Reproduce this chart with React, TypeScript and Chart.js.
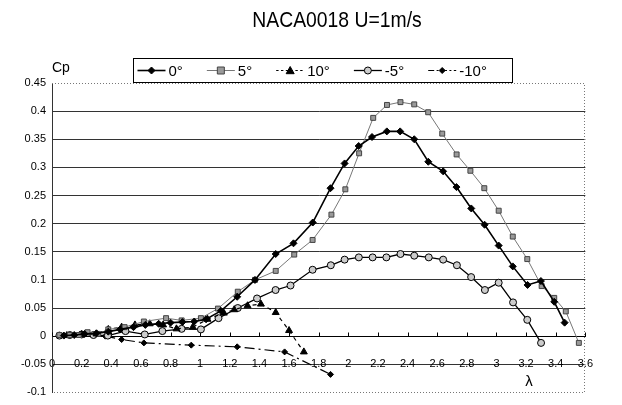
import React, { useEffect, useRef } from 'react';
import { Chart, registerables } from 'chart.js';

Chart.register(...registerables);

const titleText = 'NACA0018 U=1m/s';
const yAxisLabel = 'Cp';
const xAxisLabel = 'λ';
const seriesNames = ['0°', '5°', '10°', '-5°', '-10°'];

const lambda0 = [0.08, 0.15, 0.22, 0.3, 0.38, 0.46, 0.55, 0.63, 0.72, 0.8, 0.88, 0.96, 1.04, 1.14, 1.25, 1.37, 1.51, 1.63, 1.76, 1.88, 1.975, 2.07, 2.16, 2.26, 2.35, 2.445, 2.54, 2.64, 2.73, 2.83, 2.92, 3.015, 3.11, 3.21, 3.3, 3.39, 3.46];
const cp0 = [0.001, 0.002, 0.004, 0.005, 0.008, 0.012, 0.016, 0.02, 0.022, 0.024, 0.025, 0.026, 0.03, 0.045, 0.07, 0.1, 0.146, 0.165, 0.202, 0.263, 0.307, 0.338, 0.354, 0.364, 0.364, 0.35, 0.31, 0.293, 0.265, 0.227, 0.198, 0.161, 0.124, 0.091, 0.098, 0.061, 0.024];

const lambda5 = [0.05, 0.12, 0.18, 0.24, 0.31, 0.38, 0.49, 0.62, 0.77, 0.875, 1.005, 1.12, 1.254, 1.37, 1.51, 1.635, 1.759, 1.886, 1.98, 2.073, 2.168, 2.261, 2.352, 2.445, 2.539, 2.634, 2.731, 2.824, 2.918, 3.015, 3.11, 3.208, 3.305, 3.39, 3.468, 3.556];
const cp5 = [0.002, 0.002, 0.002, 0.007, 0.004, 0.012, 0.016, 0.026, 0.032, 0.028, 0.032, 0.049, 0.079, 0.1, 0.116, 0.145, 0.171, 0.216, 0.261, 0.325, 0.388, 0.411, 0.416, 0.412, 0.398, 0.36, 0.323, 0.294, 0.263, 0.223, 0.177, 0.137, 0.089, 0.068, 0.044, -0.012];

const lambda10 = [0.1, 0.2, 0.3, 0.38, 0.47, 0.56, 0.66, 0.75, 0.84, 0.95, 1.05, 1.16, 1.23, 1.32, 1.41, 1.51, 1.6, 1.7];
const cp10 = [0.001, 0.003, 0.004, 0.012, 0.016, 0.02, 0.022, 0.02, 0.013, 0.016, 0.03, 0.041, 0.047, 0.054, 0.057, 0.042, 0.01, -0.028];

const lambdaM5 = [0.05, 0.12, 0.2, 0.28, 0.377, 0.496, 0.626, 0.745, 0.875, 1.005, 1.124, 1.254, 1.384, 1.509, 1.61, 1.759, 1.882, 1.975, 2.071, 2.164, 2.257, 2.352, 2.445, 2.543, 2.64, 2.733, 2.829, 2.922, 3.015, 3.112, 3.208, 3.301];
const cpM5 = [0.001, 0.002, 0.003, 0.002, 0.001, 0.009, 0.003, 0.009, 0.013, 0.012, 0.032, 0.05, 0.067, 0.082, 0.09, 0.118, 0.126, 0.136, 0.14, 0.14, 0.14, 0.146, 0.143, 0.14, 0.136, 0.126, 0.105, 0.082, 0.095, 0.06, 0.029, -0.012];

const lambdaM10 = [0.36, 0.47, 0.62, 0.94, 1.25, 1.57, 1.88];
const cpM10 = [0.0, -0.006, -0.012, -0.016, -0.019, -0.028, -0.068];

const xMin = 0;
const xMax = 3.6;
const xStep = 0.2;
const yMin = -0.1;
const yMax = 0.45;
const yStep = 0.05;

const FONT = "'Liberation Sans', Arial, sans-serif";

type Style = {
  color: string;
  width: number;
  dash: number[];
  marker: string;
  radius: number;
  fill: string;
  stroke: string;
};

const styles: Style[] = [
  { color: '#000', width: 1.6, dash: [], marker: 'rectRot', radius: 3.5, fill: '#000', stroke: '#000' },
  { color: '#777', width: 1, dash: [], marker: 'rect', radius: 3.5, fill: '#9a9a9a', stroke: '#444' },
  { color: '#000', width: 1.2, dash: [4, 4], marker: 'triangle', radius: 4, fill: '#000', stroke: '#000' },
  { color: '#000', width: 1.3, dash: [], marker: 'circle', radius: 3.5, fill: '#ccc', stroke: '#000' },
  { color: '#000', width: 1.2, dash: [10, 4, 2, 4], marker: 'rectRot', radius: 3, fill: '#000', stroke: '#000' },
];

const fmt = (v: number) => String(Number(Number(v).toFixed(2)));

function drawMarker(ctx: CanvasRenderingContext2D, s: Style, x: number, y: number) {
  const r = s.radius;
  ctx.save();
  ctx.setLineDash([]);
  ctx.fillStyle = s.fill;
  ctx.strokeStyle = s.stroke;
  ctx.lineWidth = 1;
  ctx.beginPath();
  if (s.marker === 'rectRot') {
    ctx.moveTo(x, y - r);
    ctx.lineTo(x + r, y);
    ctx.lineTo(x, y + r);
    ctx.lineTo(x - r, y);
    ctx.closePath();
  } else if (s.marker === 'rect') {
    ctx.rect(x - r, y - r, 2 * r, 2 * r);
  } else if (s.marker === 'triangle') {
    ctx.moveTo(x, y - r);
    ctx.lineTo(x + r, y + r * 0.8);
    ctx.lineTo(x - r, y + r * 0.8);
    ctx.closePath();
  } else {
    ctx.arc(x, y, r, 0, Math.PI * 2);
  }
  ctx.fill();
  ctx.stroke();
  ctx.restore();
}

const decor = {
  id: 'decor',
  beforeDatasetsDraw(chart: any) {
    const { ctx, chartArea } = chart;
    const xs = chart.scales.x;
    const ys = chart.scales.y;
    ctx.save();
    ctx.strokeStyle = '#777';
    ctx.lineWidth = 1;
    ctx.setLineDash([1, 2]);
    const yt = Math.round(ys.getPixelForValue(yMax)) + 0.5;
    const yb = Math.round(ys.getPixelForValue(yMin)) + 0.5;
    const xr = Math.round(chartArea.right) - 0.5;
    ctx.beginPath();
    ctx.moveTo(chartArea.left, yt);
    ctx.lineTo(xr, yt);
    ctx.lineTo(xr, yb);
    ctx.lineTo(chartArea.left, yb);
    ctx.stroke();
    ctx.setLineDash([]);
    const y0 = Math.round(ys.getPixelForValue(0)) + 0.5;
    ctx.strokeStyle = '#000';
    ctx.beginPath();
    xs.ticks.forEach((t: any) => {
      const px = Math.round(xs.getPixelForValue(t.value)) + 0.5;
      ctx.moveTo(px, y0);
      ctx.lineTo(px, y0 - 4);
    });
    ctx.stroke();
    ctx.restore();
  },
  afterDraw(chart: any) {
    const { ctx, chartArea } = chart;
    const xs = chart.scales.x;
    const ys = chart.scales.y;
    ctx.save();
    ctx.fillStyle = '#000';
    ctx.save();
    ctx.translate(329, 13);
    ctx.scale(0.88, 1);
    ctx.font = `22px ${FONT}`;
    ctx.textAlign = 'center';
    ctx.textBaseline = 'middle';
    ctx.fillText(titleText, 0, 0);
    ctx.restore();
    ctx.font = `14px ${FONT}`;
    ctx.textAlign = 'left';
    ctx.textBaseline = 'middle';
    ctx.fillText(yAxisLabel, chartArea.left, 60);
    ctx.font = `15px ${FONT}`;
    ctx.textAlign = 'center';
    ctx.fillText(xAxisLabel, xs.getPixelForValue(3.22), ys.getPixelForValue(-0.082));
    const bx = 125.5;
    const by = 50.5;
    const bw = 379;
    const bh = 24;
    ctx.strokeStyle = '#000';
    ctx.lineWidth = 1;
    ctx.strokeRect(bx, by, bw, bh);
    const cy = by + bh / 2;
    ctx.font = `15px ${FONT}`;
    ctx.textAlign = 'left';
    let x = bx + 4;
    const L = 28;
    styles.forEach((s, i) => {
      ctx.save();
      ctx.strokeStyle = s.color;
      ctx.lineWidth = s.width;
      ctx.setLineDash(s.dash.map((d) => Math.max(2, d * 0.6)));
      ctx.beginPath();
      ctx.moveTo(x, cy);
      ctx.lineTo(x + L, cy);
      ctx.stroke();
      ctx.restore();
      drawMarker(ctx, s, x + L / 2, cy);
      ctx.fillStyle = '#000';
      ctx.fillText(seriesNames[i], x + L + 3, cy + 1);
      x += L + 3 + ctx.measureText(seriesNames[i]).width + 24;
    });
    ctx.restore();
  },
};

export default function App() {
  const ref = useRef<HTMLCanvasElement>(null);
  useEffect(() => {
    if (!ref.current) return;
    const xsArr = [lambda0, lambda5, lambda10, lambdaM5, lambdaM10];
    const ysArr = [cp0, cp5, cp10, cpM5, cpM10];
    const datasets = styles.map((s, i) => ({
      label: seriesNames[i],
      data: xsArr[i].map((v, j) => ({ x: v, y: ysArr[i][j] })),
      borderColor: s.color,
      borderWidth: s.width,
      borderDash: s.dash,
      pointStyle: s.marker,
      pointRadius: s.radius,
      pointBackgroundColor: s.fill,
      pointBorderColor: s.stroke,
      pointBorderWidth: 1,
      fill: false,
      tension: 0,
    }));
    const chart = new Chart(ref.current, {
      type: 'line',
      data: { datasets },
      options: {
        animation: false,
        responsive: false,
        devicePixelRatio: 1,
        layout: { padding: { top: 75, right: 7, bottom: 8, left: 0 } },
        plugins: { legend: { display: false }, title: { display: false }, tooltip: { enabled: false } },
        scales: {
          x: {
            type: 'linear',
            min: xMin,
            max: xMax,
            position: { y: 0 },
            ticks: {
              stepSize: xStep,
              color: '#000',
              font: { size: 11, family: FONT },
              padding: 21,
              maxRotation: 0,
              autoSkip: false,
              callback: (v: any) => fmt(v),
            },
            grid: { drawOnChartArea: false, drawTicks: false },
            border: { color: '#000', width: 1 },
          },
          y: {
            type: 'linear',
            min: yMin,
            max: yMax,
            ticks: {
              stepSize: yStep,
              color: '#000',
              font: { size: 11, family: FONT },
              padding: 6,
              callback: (v: any) => fmt(v),
            },
            grid: {
              drawTicks: false,
              lineWidth: 1,
              color: (c: any) =>
                c.tick && (Math.abs(c.tick.value - yMax) < 1e-6 || Math.abs(c.tick.value - yMin) < 1e-6)
                  ? 'rgba(0,0,0,0)'
                  : '#333',
            },
            border: { color: '#333', width: 1 },
            afterFit: (s: any) => {
              s.width = 44;
            },
          },
        },
      } as any,
      plugins: [decor],
    } as any);
    return () => chart.destroy();
  }, []);
  return <canvas ref={ref} width={606} height={397} style={{ display: 'block' }} />;
}
